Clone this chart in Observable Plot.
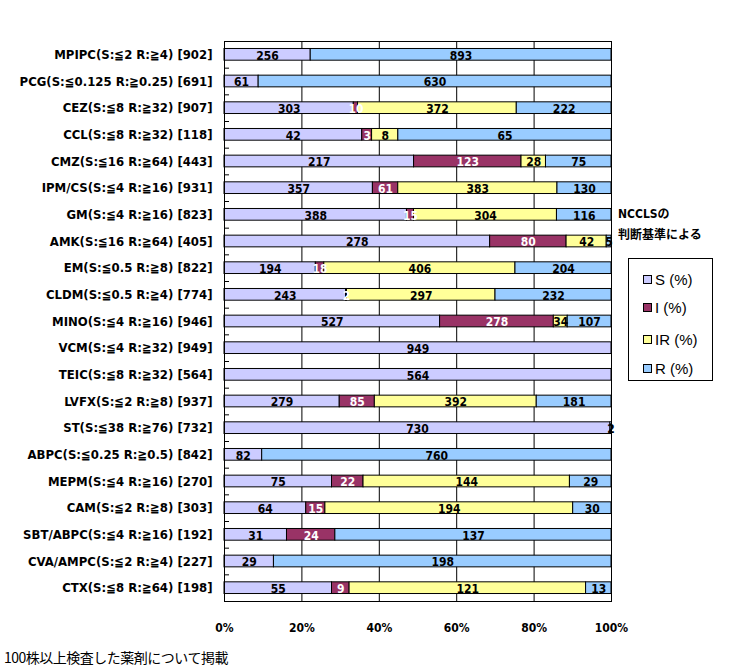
<!DOCTYPE html>
<html><head><meta charset="utf-8">
<script src="https://cdn.jsdelivr.net/npm/d3@7"></script>
<script src="https://cdn.jsdelivr.net/npm/@observablehq/plot@0.6"></script>
<style>
body{margin:0;background:#fff;}
#wrap{position:relative;width:737px;height:671px;background:#fff;}
#chart{position:absolute;left:0;top:0;}
.note{position:absolute;font-family:"DejaVu Sans Condensed","Noto Sans CJK JP",sans-serif;font-weight:bold;font-size:12px;color:#000;white-space:nowrap;}
#legend{position:absolute;left:628px;top:258px;width:83px;height:121px;border:1px solid #000;background:#fff;font-family:"Liberation Sans",Arial,sans-serif;font-size:15px;}
.item{position:absolute;left:14px;display:flex;align-items:center;height:18px;}
.sw{width:7px;height:7px;border:1px solid #000;margin-right:3px;}
#foot{position:absolute;left:4px;top:647px;font-family:"Noto Sans CJK JP",sans-serif;font-size:14px;letter-spacing:-0.5px;white-space:nowrap;}
</style></head>
<body><div id="wrap">
<div id="chart"></div>
<div class="note" style="left:618px;top:204px;">NCCLSの</div>
<div class="note" style="left:618px;top:225px;">判断基準による</div>
<div id="legend"></div>
<div id="foot">100株以上検査した薬剤について掲載</div>
</div>
<script>
const drugs = [
  "MPIPC(S:≦2 R:≧4) [902]",
  "PCG(S:≦0.125 R:≧0.25) [691]",
  "CEZ(S:≦8 R:≧32) [907]",
  "CCL(S:≦8 R:≧32) [118]",
  "CMZ(S:≦16 R:≧64) [443]",
  "IPM/CS(S:≦4 R:≧16) [931]",
  "GM(S:≦4 R:≧16) [823]",
  "AMK(S:≦16 R:≧64) [405]",
  "EM(S:≦0.5 R:≧8) [822]",
  "CLDM(S:≦0.5 R:≧4) [774]",
  "MINO(S:≦4 R:≧16) [946]",
  "VCM(S:≦4 R:≧32) [949]",
  "TEIC(S:≦8 R:≧32) [564]",
  "LVFX(S:≦2 R:≧8) [937]",
  "ST(S:≦38 R:≧76) [732]",
  "ABPC(S:≦0.25 R:≧0.5) [842]",
  "MEPM(S:≦4 R:≧16) [270]",
  "CAM(S:≦2 R:≧8) [303]",
  "SBT/ABPC(S:≦4 R:≧16) [192]",
  "CVA/AMPC(S:≦2 R:≧4) [227]",
  "CTX(S:≦8 R:≧64) [198]"
];
const seriesS  = [256,61,303,42,217,357,388,278,194,243,527,949,564,279,730,82,75,64,31,29,55];
const seriesI  = [0,0,10,3,123,61,15,80,18,2,278,0,0,85,0,0,22,15,24,0,9];
const seriesIR = [0,0,372,8,28,383,304,42,406,297,34,0,0,392,0,0,144,194,0,0,121];
const seriesR  = [893,630,222,65,75,130,116,5,204,232,107,0,0,181,2,760,29,30,137,198,13];
const seriesNames = ["S","I","IR","R"];
const legendLabels = ["S (%)","I (%)","IR (%)","R (%)"];
const colors = ["#CCCCFF","#993366","#FFFF99","#99CCFF"];
const xTicks = [0,0.2,0.4,0.6,0.8,1];

const all = [seriesS, seriesI, seriesIR, seriesR];
const data = [];
drugs.forEach((d,i)=>{
  all.forEach((arr,j)=>{ if(arr[i]>0) data.push({drug:d, cat:seriesNames[j], value:arr[i]}); });
});

const W=737, H=645, mT=41, mB=44, mL=224, mR=126;
const step = (H-mT-mB)/drugs.length;
const barH = 11.7;
const inset = (step-barH)/2;
const stackOpts = {x:"value", y:"drug", z:"cat", offset:"normalize", order:seriesNames};
const font = '"DejaVu Sans Condensed","Noto Sans CJK JP",sans-serif';

const plot = Plot.plot({
  width:W, height:H,
  marginLeft:mL, marginRight:mR, marginTop:mT, marginBottom:mB,
  style:{fontFamily:font, fontSize:"13px", fontWeight:"bold", background:"white", color:"black", overflow:"visible"},
  x:{domain:[0,1], label:null},
  y:{domain:drugs, padding:0, round:false, label:null},
  color:{domain:seriesNames, range:colors},
  marks:[
    Plot.gridX(xTicks.slice(1,-1), {stroke:"black", strokeOpacity:1, strokeWidth:1}),
    Plot.ruleY(drugs.slice(1), {x1:0, x2:0.013, dy:-step/2, stroke:"black"}),
    Plot.barX(data, Plot.stackX({...stackOpts, fill:"cat", stroke:"black", strokeWidth:1, insetTop:inset, insetBottom:inset})),
    Plot.text(data, Plot.filter(d=>d.cat!=="I", Plot.stackX({...stackOpts, text:"value", fill:"black", fontSize:12, dy:1}))),
    Plot.text(data, Plot.filter(d=>d.cat==="I", Plot.stackX({...stackOpts, text:"value", fill:"white", fontSize:12, dy:1}))),
    Plot.frame({stroke:"black"}),
    Plot.axisX({ticks:xTicks, tickFormat:d=>Math.round(d*100)+"%", tickSize:0, tickPadding:22, fontSize:12, label:null}),
    Plot.axisY({tickSize:0, tickPadding:12, fontSize:13, label:null})
  ]
});
document.getElementById("chart").appendChild(plot);

const lg = document.getElementById("legend");
const tops = [11,39,71,100];
legendLabels.forEach((t,i)=>{
  const it = document.createElement("div");
  it.className="item"; it.style.top = tops[i]+"px";
  it.innerHTML = `<div class="sw" style="background:${colors[i]}"></div><span>${t}</span>`;
  lg.appendChild(it);
});
</script>
</body></html>
